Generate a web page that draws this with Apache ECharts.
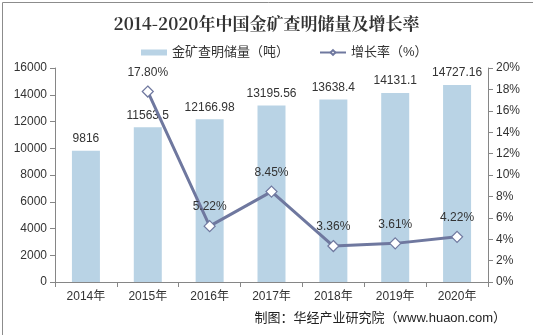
<!DOCTYPE html>
<html><head><meta charset="utf-8">
<script src="https://cdn.jsdelivr.net/npm/echarts@6/dist/echarts.min.js"></script>
<style>html,body{margin:0;padding:0;background:#fff}#c{width:533px;height:335px}</style>
</head><body><div id="c"></div>
<script>
const categories = ['2014年','2015年','2016年','2017年','2018年','2019年','2020年'];
const reserves = [9816, 11563.5, 12166.98, 13195.56, 13638.4, 14131.1, 14727.16];
const growth = [null, 17.80, 5.22, 8.45, 3.36, 3.61, 4.22];
const leftTicks = {min: 0, max: 16000, interval: 2000};
const rightTicks = {min: 0, max: 20, interval: 2};

const chart = echarts.init(document.getElementById('c'));
const font = 'Arial, "Liberation Sans", "Noto Sans CJK SC", sans-serif';
chart.setOption({
  animation: false,
  textStyle: {fontFamily: font},
  title: {
    text: '2014-2020年中国金矿查明储量及增长率',
    left: 'center', top: 10,
    textStyle: {fontFamily: '"Noto Serif CJK SC", serif, "Noto Sans CJK SC"', fontSize: 17, fontWeight: 'bold', color: '#333'}
  },
  legend: {
    top: 41, left: 136, itemGap: 30, itemWidth: 26, itemHeight: 6,
    textStyle: {fontSize: 13, color: '#333', fontFamily: font},
    data: [
      {name: '金矿查明储量（吨）', icon: 'rect'},
      {name: '增长率（%）'}
    ]
  },
  grid: {left: 55, right: 45, top: 68, bottom: 53},
  xAxis: {
    type: 'category', data: categories,
    axisLine: {lineStyle: {color: '#868686'}},
    axisTick: {show: true, lineStyle: {color: '#868686'}},
    axisLabel: {color: '#333', fontSize: 12, margin: 9}
  },
  yAxis: [
    {type: 'value', min: leftTicks.min, max: leftTicks.max, interval: leftTicks.interval,
     axisLine: {show: true, lineStyle: {color: '#868686'}},
     axisTick: {show: true, lineStyle: {color: '#868686'}},
     splitLine: {show: false},
     axisLabel: {color: '#333', fontSize: 12, formatter: v => String(v)}},
    {type: 'value', min: rightTicks.min, max: rightTicks.max, interval: rightTicks.interval,
     axisLine: {show: true, lineStyle: {color: '#868686'}},
     axisTick: {show: true, lineStyle: {color: '#868686'}},
     splitLine: {show: false},
     axisLabel: {color: '#333', fontSize: 12, formatter: '{value}%'}}
  ],
  series: [
    {name: '金矿查明储量（吨）', type: 'bar', data: reserves, barWidth: 28,
     itemStyle: {color: '#b9d3e5'},
     label: {show: true, position: 'top', color: '#333', fontSize: 12, distance: 6}},
    {name: '增长率（%）', type: 'line', yAxisIndex: 1, data: growth,
     symbol: 'diamond', symbolSize: 11, showAllSymbol: true,
     lineStyle: {color: '#6f789f', width: 3},
     itemStyle: {color: '#ffffff', borderColor: '#6f789f', borderWidth: 1.2},
     label: {show: true, position: 'top', color: '#333', fontSize: 12, distance: 7,
       formatter: p => p.value.toFixed(2) + '%'}}
  ],
  graphic: [
    {type: 'rect', left: 0, top: 0, shape: {x: 0.5, y: 0.5, width: 532, height: 334},
     style: {fill: 'none', stroke: '#8c8c8c', lineWidth: 1}, silent: true},
    {type: 'text', right: 27, top: 312,
     style: {text: '制图：华经产业研究院（www.huaon.com）', fill: '#222', font: '13px ' + font}}
  ]
});
</script></body></html>
